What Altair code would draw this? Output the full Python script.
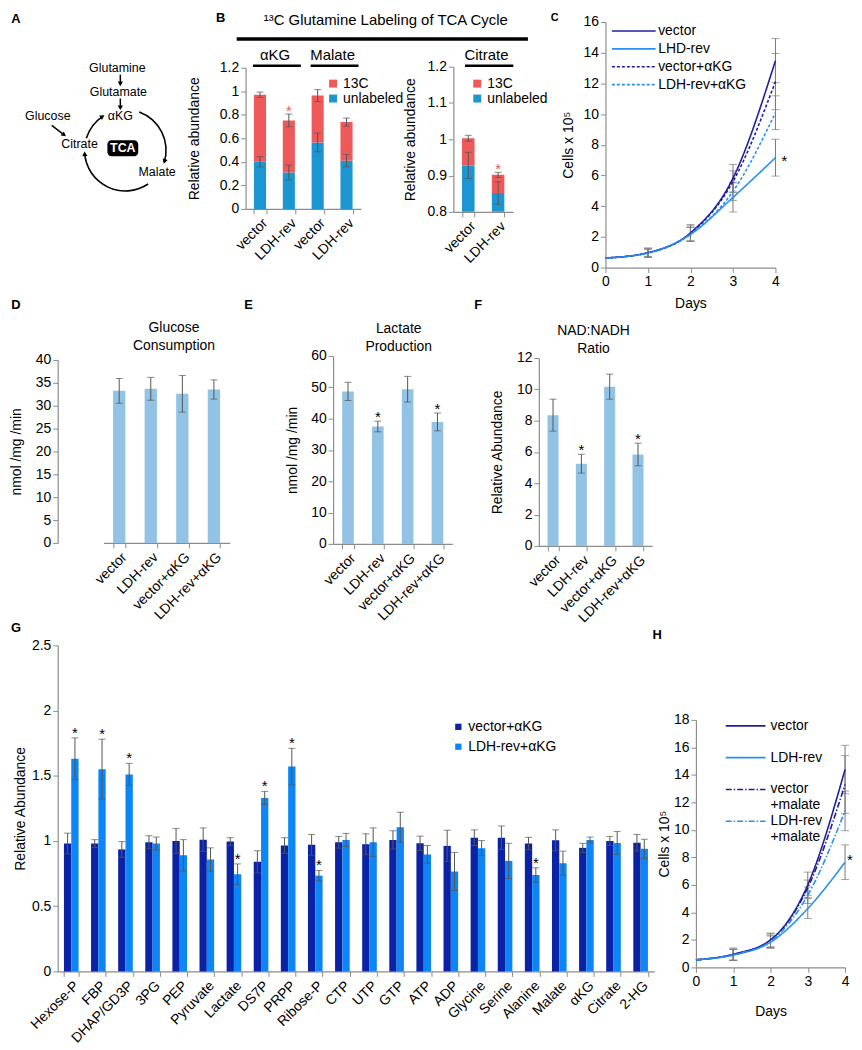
import math
import altair as alt
import pandas as pd

FONT = "Liberation Sans"
RED = "#EE5A5A"
BLUE = "#1C96D3"
BARBLUE = "#92C3E4"
NAVY = "#1F1F9E"
SKY = "#2890F5"
GNAVY = "#0C22A5"
GSKY = "#0C86F6"
ERR = "#555555"
LINE_ERR = "#7A7A7A"
AXIS = "#8C8C8C"

# ---------------- data ----------------
# B: 13C glutamine labeling
b_metab = ["αKG", "αKG", "Malate", "Malate"]
b_cond = ["vector", "LDH-rev", "vector", "LDH-rev"]
b_unlab = [0.40, 0.31, 0.565, 0.41]
b_unlab_err = [0.044, 0.063, 0.08, 0.053]
b_total = [0.97, 0.752, 0.963, 0.738]
b_total_err = [0.023, 0.054, 0.051, 0.034]
b_star = [False, True, False, False]

cit_metab = ["Citrate", "Citrate"]
cit_cond = ["vector", "LDH-rev"]
cit_unlab = [0.928, 0.852]
cit_unlab_err = [0.036, 0.031]
cit_total = [1.003, 0.902]
cit_total_err = [0.008, 0.007]
cit_star = [False, True]

# C: growth with aKG
days = [0, 1, 2, 3, 4]
c_series = ["vector", "LHD-rev", "vector+αKG", "LDH-rev+αKG"]
c_vector = [0.62, 0.97, 2.26, 5.82, 13.48]
c_vector_err = [0.0, 0.3, 0.55, 0.9, 1.44]
c_lhd = [0.62, 0.95, 2.16, 4.57, 7.16]
c_lhd_err = [0.0, 0.25, 0.45, 0.95, 1.2]
c_vec_akg = [0.62, 0.96, 2.22, 5.6, 12.12]
c_vec_akg_err = [0.0, 0.3, 0.5, 0.7, 1.83]
c_ldh_akg = [0.62, 0.95, 2.18, 4.96, 10.09]
c_ldh_akg_err = [0.0, 0.25, 0.45, 0.6, 1.1]

# D, E, F
def_cond = ["vector", "LDH-rev", "vector+αKG", "LDH-rev+αKG"]
glc = [33.25, 33.7, 32.6, 33.55]
glc_err = [2.7, 2.5, 4.0, 2.1]
glc_star = [False, False, False, False]
lac = [48.7, 37.5, 49.4, 38.95]
lac_err = [2.9, 1.7, 4.1, 2.85]
lac_star = [False, True, False, True]
nad = [8.35, 5.25, 10.17, 5.84]
nad_err = [1.02, 0.6, 0.8, 0.72]
nad_star = [False, True, False, True]

# G: metabolite abundance
g_metab = ["Hexose-P", "FBP", "DHAP/GD3P", "3PG", "PEP", "Pyruvate", "Lactate", "DS7P",
           "PRPP", "Ribose-P", "CTP", "UTP", "GTP", "ATP", "ADP", "Glycine", "Serine",
           "Alanine", "Malate", "αKG", "Citrate", "2-HG"]
g_groups = ["vector+αKG", "LDH-rev+αKG"]
g_vec = [0.98, 0.98, 0.935, 0.99, 1.0, 1.01, 0.995, 0.84, 0.965, 0.97, 0.99, 0.975,
         1.008, 0.982, 0.962, 1.025, 1.025, 0.98, 1.005, 0.947, 1.0, 0.987]
g_vec_err = [0.08, 0.03, 0.06, 0.05, 0.095, 0.09, 0.03, 0.085, 0.06, 0.08, 0.045, 0.08,
             0.07, 0.055, 0.12, 0.06, 0.09, 0.048, 0.08, 0.035, 0.035, 0.063]
g_ldh = [1.63, 1.55, 1.51, 0.98, 0.89, 0.857, 0.744, 1.33, 1.57, 0.734, 1.008, 0.99,
         1.105, 0.897, 0.766, 0.945, 0.847, 0.739, 0.829, 1.008, 0.985, 0.94]
g_ldh_err = [0.16, 0.23, 0.085, 0.05, 0.12, 0.09, 0.08, 0.05, 0.14, 0.04, 0.05, 0.11,
             0.115, 0.068, 0.146, 0.058, 0.135, 0.055, 0.093, 0.022, 0.088, 0.073]
g_star = [True, True, True, False, False, False, True, True, True, True, False, False,
          False, False, False, False, False, True, False, False, False, False]

# H: growth with malate
h_series = ["vector", "LDH-rev", "vector+malate", "LDH-rev+malate"]
h_vector = [0.55, 0.96, 2.0, 6.0, 14.39]
h_vector_err = [0.0, 0.45, 0.5, 0.93, 1.76]
h_ldh = [0.55, 0.9, 1.83, 4.28, 7.65]
h_ldh_err = [0.0, 0.4, 0.45, 0.72, 1.26]
h_vec_mal = [0.55, 0.93, 1.95, 5.8, 13.3]
h_vec_mal_err = [0.0, 0.4, 0.5, 0.55, 2.1]
h_ldh_mal = [0.55, 0.92, 1.9, 5.25, 11.38]
h_ldh_mal_err = [0.0, 0.4, 0.45, 0.6, 1.44]

# A: pathway scheme (layout of the drawing)
diag_names = ["Glutamine", "Glutamate", "Glucose", "αKG", "Citrate", "Malate"]
diag_x = [110, 111, 40, 113, 72, 150]
diag_y = [62, 86, 111, 111, 139, 167]
arrow_x1 = [113, 113, 44]
arrow_y1 = [69, 93, 120]
arrow_x2 = [113, 113, 57]
arrow_y2 = [79, 103, 130]
cycle_center = (118, 145)
cycle_r = 41
arc_start = [287, 20, 146]
arc_end = [327, 107, 266]
tca_box = (100, 131, 135, 151)

ONE = pd.DataFrame({"o": [0]})


def txt(text, x, y, size=14, weight="normal", color="black", align="center",
        baseline="middle", lh=None):
    kw = dict(fontSize=size, fontWeight=weight, color=color, align=align, baseline=baseline)
    if lh is not None:
        kw["lineHeight"] = lh
    return alt.Chart(ONE).mark_text(**kw).encode(
        text=alt.value(text), x=alt.value(x), y=alt.value(y))


def err_layers(df, enc, ysc, yax, color, cap):
    rule = alt.Chart(df).mark_rule(color=color, strokeWidth=1).encode(
        y=alt.Y("lo:Q", scale=ysc, axis=yax), y2="hi:Q", **enc)
    t_lo = alt.Chart(df).mark_tick(color=color, size=cap, thickness=1, orient="horizontal").encode(
        y=alt.Y("lo:Q", scale=ysc, axis=yax), **enc)
    t_hi = alt.Chart(df).mark_tick(color=color, size=cap, thickness=1, orient="horizontal").encode(
        y=alt.Y("hi:Q", scale=ysc, axis=yax), **enc)
    return [rule, t_lo, t_hi]


# ---------------- A ----------------
sxA = alt.Scale(domain=[50, 146], nice=False, zero=False)
syA = alt.Scale(domain=[16, 204], nice=False, zero=False, reverse=True)


def XA(f):
    return alt.X(f, scale=sxA, axis=None)


def YA(f):
    return alt.Y(f, scale=syA, axis=None)


nodes = pd.DataFrame({"name": diag_names, "x": diag_x, "y": diag_y})
segs = pd.DataFrame({"x": arrow_x1, "y": arrow_y1, "x2": arrow_x2, "y2": arrow_y2})
cx, cy = cycle_center
arcs = pd.DataFrame({"cx": [cx] * 3, "cy": [cy] * 3,
                     "t1": [math.radians(a) for a in arc_start],
                     "t2": [math.radians(a) for a in arc_end]})
hx, hy, ha = [], [], []
for x1, y1, x2, y2 in zip(arrow_x1, arrow_y1, arrow_x2, arrow_y2):
    h = math.degrees(math.atan2(x2 - x1, -(y2 - y1)))
    hx.append(x2); hy.append(y2); ha.append(h)
for t in arc_end:
    tr = math.radians(t)
    hx.append(cx + cycle_r * math.sin(tr)); hy.append(cy - cycle_r * math.cos(tr)); ha.append(t + 90)
heads = pd.DataFrame({"x": hx, "y": hy, "h": ha})
heads["x"] = heads["x"] - 1.5 * heads["h"].apply(lambda d: math.sin(math.radians(d)))
heads["y"] = heads["y"] + 1.5 * heads["h"].apply(lambda d: math.cos(math.radians(d)))
box = pd.DataFrame({"x": [tca_box[0]], "x2": [tca_box[1]], "y": [tca_box[2]], "y2": [tca_box[3]],
                    "tx": [(tca_box[0] + tca_box[1]) / 2], "ty": [(tca_box[2] + tca_box[3]) / 2]})
letterA = pd.DataFrame({"x": [8], "y": [13.5], "t": ["A"]})

A = alt.layer(
    alt.Chart(nodes).mark_text(fontSize=12.5, color="black").encode(x=XA("x:Q"), y=YA("y:Q"), text="name:N"),
    alt.Chart(segs).mark_rule(strokeWidth=1.5, color="black").encode(x=XA("x:Q"), y=YA("y:Q"), x2="x2:Q", y2="y2:Q"),
    alt.Chart(arcs).mark_arc(radius=41.8, radius2=40.2, color="black").encode(
        x=XA("cx:Q"), y=YA("cy:Q"), theta=alt.Theta("t1:Q", scale=None, stack=False), theta2="t2:Q"),
    alt.Chart(heads).mark_point(shape="triangle", filled=True, size=28, color="black", opacity=1).encode(
        x=XA("x:Q"), y=YA("y:Q"), angle=alt.Angle("h:Q", scale=None)),
    alt.Chart(box).mark_rect(cornerRadius=4, color="black").encode(x=XA("x:Q"), x2="x2:Q", y=YA("y:Q"), y2="y2:Q"),
    alt.Chart(box).mark_text(fontSize=12.5, color="white", fontWeight="bold").encode(
        x=XA("tx:Q"), y=YA("ty:Q"), text=alt.value("TCA")),
    alt.Chart(letterA).mark_text(fontSize=13, fontWeight="bold", color="black").encode(
        x=XA("x:Q"), y=YA("y:Q"), text="t:N"),
).properties(width=96, height=188)


# ---------------- B ----------------
def b_panel(metab, cond, unlab, uerr, total, terr, star, ydomain, yvalues, height, yrange,
            width, legend_x, title_pad, lab_dx, ul_off, extras):
    n = len(metab)
    keys = [f"{m}|{c}" for m, c in zip(metab, cond)]
    seg = pd.DataFrame({"key": keys * 2, "part": ["unlabeled"] * n + ["13C"] * n,
                        "lo": [0.0] * n + list(unlab), "hi": list(unlab) + list(total)})
    err = pd.DataFrame({"key": keys * 2,
                        "lo": [u - e for u, e in zip(unlab, uerr)] + [t - e for t, e in zip(total, terr)],
                        "hi": [u + e for u, e in zip(unlab, uerr)] + [t + e for t, e in zip(total, terr)]})
    sdf = pd.DataFrame({"key": [k for k, s in zip(keys, star) if s],
                        "hi": [t + e for t, e, s in zip(total, terr, star) if s]})
    gnames = list(dict.fromkeys(metab))
    gdf = pd.DataFrame({"key": [keys[metab.index(g)] for g in gnames],
                        "key2": [keys[n - 1 - metab[::-1].index(g)] for g in gnames],
                        "lab": gnames})
    xsc = alt.Scale(domain=keys, paddingInner=0.58, paddingOuter=0.29)
    xax = alt.Axis(title=None, labelExpr="split(datum.label, '|')[1]", labelAngle=-45, tickBand="extent")
    ysc = alt.Scale(domain=ydomain, range=yrange, nice=False, zero=False)
    yax = alt.Axis(title="Relative abundance", values=yvalues, format="~g", titlePadding=title_pad)
    X = alt.X("key:N", scale=xsc, axis=xax)
    leg = alt.Legend(title=None, orient="none", legendX=legend_x, legendY=55, symbolType="square",
                     symbolSize=64, symbolStrokeWidth=0, labelFontSize=14, rowPadding=1,
                     labelOffset=3, padding=0)
    bars = alt.Chart(seg).mark_bar(clip=True).encode(
        x=X, y=alt.Y("lo:Q", scale=ysc, axis=yax), y2="hi:Q",
        color=alt.Color("part:N", scale=alt.Scale(domain=["13C", "unlabeled"], range=[RED, BLUE]), legend=leg))
    layers = [bars] + err_layers(err, {"x": X}, ysc, yax, ERR, 7)
    layers.append(alt.Chart(sdf).mark_text(text="*", fontSize=15, color=RED, baseline="alphabetic", dy=2).encode(
        x=X, y=alt.Y("hi:Q", scale=ysc, axis=yax)))
    layers.append(alt.Chart(gdf).mark_text(fontSize=15, color="black", dx=lab_dx).encode(
        x=alt.X("key:N", scale=xsc, axis=xax, bandPosition=1), y=alt.value(33), text="lab:N"))
    layers.append(alt.Chart(gdf).mark_rule(strokeWidth=2.5, color="black",
                                           xOffset=ul_off[0], x2Offset=ul_off[1]).encode(
        x=alt.X("key:N", scale=xsc, axis=xax, bandPosition=0),
        x2=alt.X2("key2:N", bandPosition=1), y=alt.value(44)))
    layers += extras
    return alt.layer(*layers).properties(width=width, height=height)


Bl_extras = [
    txt("¹³C Glutamine Labeling of TCA Cycle", 141, -1.5, size=15),
    alt.Chart(ONE).mark_rule(strokeWidth=3.5, color="black").encode(
        x=alt.value(-9), x2=alt.value(284), y=alt.value(17)),
    txt("B", -25, -3.5, size=13, weight="bold"),
]
Bl = b_panel(b_metab, b_cond, b_unlab, b_unlab_err, b_total, b_total_err, b_star,
             [0, 1.2], [0, 0.2, 0.4, 0.6, 0.8, 1, 1.2], 188, [188, 46], 116, 81, 18,
             9, (-1, 6), Bl_extras)
Br = b_panel(cit_metab, cit_cond, cit_unlab, cit_unlab_err, cit_total, cit_total_err, cit_star,
             [0.8, 1.2], [0.8, 0.9, 1, 1.1, 1.2], 191, [191, 45], 60, 17, 10,
             12, (3, 9), [])


# ---------------- C / H line panels ----------------
def line_panel(series, vals_list, errs_list, colors, dashes, ymax, yvalues, width, height, yrange,
               legend, letter, letter_xy, letter_size, star_dx, star_dy, xtitle_pad, ytitle_pad):
    rows = []
    for s, vals, errs in zip(series, vals_list, errs_list):
        for d, v, e in zip(days, vals, errs):
            rows.append({"series": s, "day": d, "val": v, "lo": v - e, "hi": v + e, "err": e})
    df = pd.DataFrame(rows)
    edf = df[df["err"] > 0]
    xsc = alt.Scale(domain=[0, 4], nice=False, zero=False)
    xax = alt.Axis(title="Days", values=[0, 1, 2, 3, 4], format="d", titlePadding=xtitle_pad)
    if yrange:
        ysc = alt.Scale(domain=[0, ymax], range=yrange, nice=False)
    else:
        ysc = alt.Scale(domain=[0, ymax], nice=False)
    yax = alt.Axis(title="Cells x 10⁵", values=yvalues, titlePadding=ytitle_pad)
    X = alt.X("day:Q", scale=xsc, axis=xax)
    layers = err_layers(edf, {"x": X}, ysc, yax, LINE_ERR, 8)
    layers.append(alt.Chart(df).mark_line(strokeWidth=1.6, interpolate="monotone").encode(
        x=X, y=alt.Y("val:Q", scale=ysc, axis=yax),
        color=alt.Color("series:N", scale=alt.Scale(domain=series, range=colors), legend=legend),
        strokeDash=alt.StrokeDash("series:N", scale=alt.Scale(domain=series, range=dashes), legend=legend)))
    sdf = pd.DataFrame({"day": [days[-1]], "val": [vals_list[1][-1]]})
    layers.append(alt.Chart(sdf).mark_text(text="*", fontSize=15, color="black", baseline="alphabetic",
                                           dx=star_dx, dy=star_dy).encode(
        x=X, y=alt.Y("val:Q", scale=ysc, axis=yax)))
    layers.append(txt(letter, letter_xy[0], letter_xy[1], size=letter_size, weight="bold"))
    return alt.layer(*layers).properties(width=width, height=height)


c_leg = alt.Legend(title=None, orient="none", legendX=5, legendY=2, symbolType="M-1,0H7", symbolSize=121,
                   symbolStrokeWidth=1.6, labelOffset=34, rowPadding=4, labelFontSize=14, padding=0)
C = line_panel(c_series, [c_vector, c_lhd, c_vec_akg, c_ldh_akg],
               [c_vector_err, c_lhd_err, c_vec_akg_err, c_ldh_akg_err],
               [NAVY, SKY, NAVY, SKY], [[1, 0], [1, 0], [3, 2], [3, 2]],
               16, list(range(0, 17, 2)), 171, 247, None, c_leg, "C", (-51, -4), 11, 9, 8, 8, 8)

h_leg = alt.Legend(title=None, orient="none", legendX=28, legendY=74, symbolType="M-1,0H7", symbolSize=100,
                   symbolStrokeWidth=1.6, labelOffset=33, rowPadding=2, labelFontSize=14, padding=0,
                   labelExpr="split(replace(datum.label, '+malate', '|+malate') + (indexof(datum.label, '+') < 0 ? '| ' : ''), '|')")
H = line_panel(h_series, [h_vector, h_ldh, h_vec_mal, h_ldh_mal],
               [h_vector_err, h_ldh_err, h_vec_mal_err, h_ldh_mal_err],
               [NAVY, SKY, NAVY, SKY], [[1, 0], [1, 0], [6, 2, 1.5, 2], [6, 2, 1.5, 2]],
               18, list(range(0, 19, 2)), 150, 324, [324, 75], h_leg, "H", (-39, -10), 13, 5, 3, 16, 2)


# ---------------- D / E / F ----------------
def bar_panel(vals, errs, stars, ydomain, yvalues, ytitle, width, height, yrange, xrange,
              title_lines, title_x, title_y, letter, letter_x, letter_y, title_pad):
    df = pd.DataFrame({"cond": def_cond, "val": vals,
                       "lo": [v - e for v, e in zip(vals, errs)],
                       "hi": [v + e for v, e in zip(vals, errs)]})
    sdf = df[[bool(s) for s in stars]]
    skw = dict(domain=def_cond, paddingInner=0.61, paddingOuter=0.305)
    if xrange:
        skw["range"] = xrange
    xsc = alt.Scale(**skw)
    xax = alt.Axis(title=None, labelAngle=-45, tickBand="extent")
    ykw = dict(domain=ydomain, nice=False)
    if yrange:
        ykw["range"] = yrange
    ysc = alt.Scale(**ykw)
    yax = alt.Axis(title=ytitle, values=yvalues, titlePadding=title_pad)
    X = alt.X("cond:N", scale=xsc, axis=xax)
    layers = [alt.Chart(df).mark_bar(color=BARBLUE).encode(x=X, y=alt.Y("val:Q", scale=ysc, axis=yax))]
    layers += err_layers(df, {"x": X}, ysc, yax, ERR, 7)
    layers.append(alt.Chart(sdf).mark_text(text="*", fontSize=15, color="black", baseline="alphabetic", dy=1).encode(
        x=X, y=alt.Y("hi:Q", scale=ysc, axis=yax)))
    layers.append(txt(title_lines, title_x, title_y, baseline="top", lh=18))
    layers.append(txt(letter, letter_x, letter_y, size=13, weight="bold"))
    return alt.layer(*layers).properties(width=width, height=height)


D = bar_panel(glc, glc_err, glc_star, [0, 40], list(range(0, 41, 5)), "nmol /mg /min", 190, 188,
              [188, 4], [46, 173], ["Glucose", "Consumption"], 117, -35, "D", -42, -51, 12)
E = bar_panel(lac, lac_err, lac_star, [0, 60], list(range(0, 61, 10)), "nmol /mg /min", 120, 189,
              None, None, ["Lactate", "Production"], 66, -34, "E", -85, -51, 11)
F = bar_panel(nad, nad_err, nad_star, [0, 12], list(range(0, 13, 2)), "Relative Abundance", 114, 191,
              [191, 2], None, ["NAD:NADH", "Ratio"], 55, -32, "F", -61, -51, 12)

# ---------------- G ----------------
g_rows = []
for m, v, ve, l, le, s in zip(g_metab, g_vec, g_vec_err, g_ldh, g_ldh_err, g_star):
    g_rows.append({"metab": m, "grp": g_groups[0], "val": v, "lo": v - ve, "hi": v + ve, "star": False})
    g_rows.append({"metab": m, "grp": g_groups[1], "val": l, "lo": l - le, "hi": l + le, "star": s})
gdf = pd.DataFrame(g_rows)
gsdf = gdf[gdf["star"]]
gxsc = alt.Scale(domain=g_metab, paddingInner=0.46, paddingOuter=0.23)
gxax = alt.Axis(title=None, labelAngle=-45, tickBand="extent")
gysc = alt.Scale(domain=[0, 2.5], nice=False)
gyax = alt.Axis(title="Relative Abundance", values=[0, 0.5, 1, 1.5, 2, 2.5], format="~g", titlePadding=4)
GX = alt.X("metab:N", scale=gxsc, axis=gxax)
GXO = alt.XOffset("grp:N", scale=alt.Scale(domain=g_groups, paddingInner=0, paddingOuter=0))
g_leg = alt.Legend(title=None, orient="none", legendX=396, legendY=75, symbolType="square", symbolSize=40,
                   symbolStrokeWidth=0, labelFontSize=14, rowPadding=6, labelOffset=3, padding=0)
G = alt.layer(
    alt.Chart(gdf).mark_bar().encode(
        x=GX, xOffset=GXO, y=alt.Y("val:Q", scale=gysc, axis=gyax),
        color=alt.Color("grp:N", scale=alt.Scale(domain=g_groups, range=[GNAVY, GSKY]), legend=g_leg)),
    *err_layers(gdf, {"x": GX, "xOffset": GXO}, gysc, gyax, ERR, 7),
    alt.Chart(gsdf).mark_text(text="*", fontSize=15, color="black", baseline="alphabetic", dy=0).encode(
        x=GX, xOffset=GXO, y=alt.Y("hi:Q", scale=gysc, axis=gyax)),
    txt("G", -42, -17, size=13, weight="bold"),
    # invisible spacer keeping the gap above the G/H row
    alt.Chart(ONE).mark_rule(strokeOpacity=0, strokeWidth=1).encode(
        x=alt.value(0), x2=alt.value(10), y=alt.value(-31)),
).properties(width=600, height=328)

# ---------------- compose ----------------
ind = dict(color="independent", strokeDash="independent")
row1 = alt.hconcat(A, Bl, Br, C, spacing=93, bounds="flush").resolve_scale(**ind).resolve_legend(**ind)
row2 = alt.hconcat(D, E, F, spacing=87, bounds="flush")
row3 = alt.hconcat(G, H, spacing=42, bounds="flush").resolve_scale(**ind).resolve_legend(**ind)
chart = alt.vconcat(row1, row2, row3, spacing=-13).resolve_scale(**ind).resolve_legend(**ind).properties(
    padding={"left": 0, "top": 0, "right": 0, "bottom": 0}
).configure(font=FONT).configure_axis(
    domainColor=AXIS, tickColor=AXIS, labelColor="black", titleColor="black",
    labelFontSize=14, titleFontSize=14, titleFontWeight="normal", grid=False,
    tickSize=5, labelPadding=2, domainWidth=1.2, labelFlush=False
).configure_view(stroke="transparent").configure_legend(labelColor="black")

chart.save("out.html", embed_options={"renderer": "svg", "actions": False})
